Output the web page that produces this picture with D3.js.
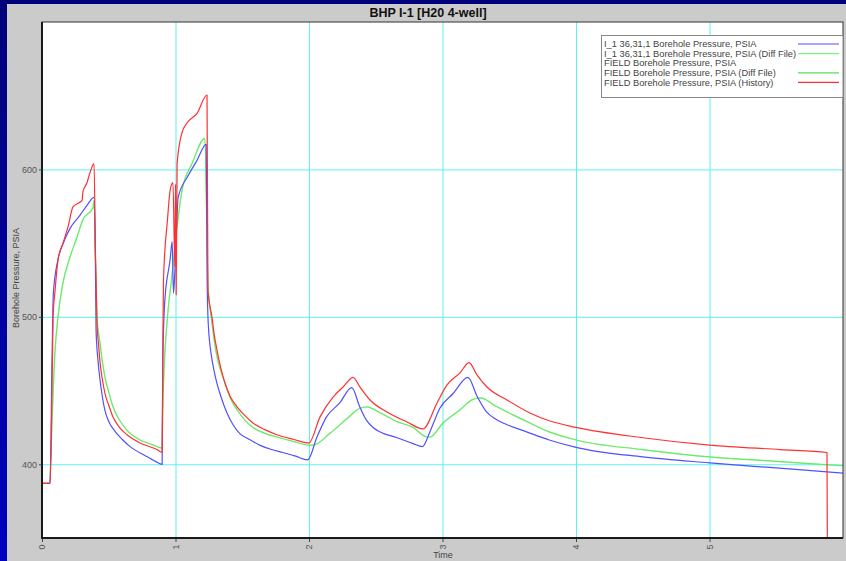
<!DOCTYPE html>
<html>
<head>
<meta charset="utf-8">
<script src="https://cdn.jsdelivr.net/npm/d3@7"></script>
<style>
  html, body { margin: 0; padding: 0; }
  body { width: 846px; height: 561px; overflow: hidden; background: linear-gradient(#00007a, #0000c0); }
  .grid line { stroke: #5ff0f0; stroke-width: 1; }
  .grid path { display: none; }
  .axis text { font-family: "Liberation Sans", Arial, sans-serif; font-size: 9px; fill: #555; }
  .axis path { display: none; }
  .axis line { stroke: #444; }
  .line { fill: none; stroke-width: 1.2; stroke-linejoin: round; }
</style>
</head>
<body>
<script>
// ---- data: [time, psia]
var wellBhp = [[0,387],[0.06,387],[0.075,470],[0.085,516],[0.12,539],[0.16,550],[0.21,560],[0.285,569],[0.34,576],[0.39,581],
  [0.40,540],[0.405,491],[0.42,470],[0.435,457],[0.45,447],[0.47,437],[0.5,429],[0.55,422],[0.6,417],[0.66,412],[0.77,406],[0.85,402],[0.9,400],
  [0.905,470],[0.92,511],[0.96,539],[0.975,551],[0.985,516],[0.995,530],[1.02,581],[1.09,595],[1.16,606],[1.23,617],
  [1.237,525],[1.245,496],[1.27,473],[1.29,463],[1.31,455],[1.34,446],[1.385,435],[1.43,427],[1.48,421],[1.55,417],[1.63,413],[1.72,410],[1.805,408],[1.9,405.5],[1.99,403],
  [2.06,418.5],[2.13,432],[2.23,441.6],[2.32,452],
  [2.38,439],[2.43,430],[2.48,425],[2.53,422],[2.66,418],[2.78,414],[2.85,412],
  [2.91,423],[2.98,438],[3.08,448],[3.19,459],
  [3.26,446],[3.33,435.5],[3.4,430.5],[3.48,427],[3.63,422],[3.8,416.5],[4,411.5],[4.5,405],[5,401],[5.5,397.5],[6,394]];

var diffBhp = [[0,387],[0.06,387],[0.065,401],[0.098,477.5],[0.12,500],[0.157,523],[0.21,540.6],[0.262,554],[0.307,566],[0.382,574],[0.39,579],
  [0.40,540],[0.412,500],[0.435,482],[0.45,471],[0.472,459],[0.5,449],[0.532,439],[0.58,430],[0.637,423],[0.734,416.5],[0.82,413.5],[0.9,411],
  [0.905,440],[0.94,500],[0.97,525],[1.012,561],[1.049,586],[1.124,604],[1.22,621],
  [1.243,523],[1.273,496],[1.29,484],[1.311,473],[1.34,463],[1.371,455],[1.41,445],[1.461,437],[1.52,430],[1.58,425],[1.67,421],[1.76,418.5],[1.88,415.5],[2.007,413],
  [2.03,413],[2.157,421],[2.285,431],[2.382,438],[2.434,439],[2.532,435],[2.659,429],[2.779,425],[2.884,418.5],[2.906,418.5],
  [3.004,428],[3.131,437],[3.228,444],[3.281,445],[3.408,439],[3.528,433.5],[3.655,428],[3.8,422],[4,416.5],[4.5,410],[5,405],[5.5,402],[6,399]];

var historyBhp = [[0,387],[0.06,387],[0.07,420],[0.083,500],[0.098,518],[0.12,538.6],[0.157,550],[0.195,561],[0.232,574.6],[0.27,577],[0.3,579],[0.307,585],[0.337,591],[0.36,598],[0.39,604],
  [0.40,545],[0.412,496],[0.425,480],[0.435,469],[0.45,459],[0.472,448],[0.5,440],[0.532,432],[0.58,425],[0.637,420],[0.734,414.5],[0.861,410],[0.9,408],
  [0.905,480],[0.91,525],[0.94,566],[0.96,586],[0.981,591],[0.995,534],[1.0,590],[1.005,515],[1.012,604],[1.049,625],[1.086,631.5],[1.161,638],[1.236,650.5],
  [1.243,518],[1.273,500],[1.29,488],[1.311,477.5],[1.34,465],[1.371,455],[1.41,446],[1.461,439],[1.52,433],[1.58,428],[1.67,423.5],[1.76,420],[1.88,417],[1.999,414.5],
  [2.082,432],[2.18,445.6],[2.255,452.4],[2.33,459],
  [2.382,452.4],[2.457,443.6],[2.584,435.5],[2.734,428.7],[2.854,424],
  [2.959,441.6],[3.034,453.8],[3.131,462],[3.199,469],
  [3.258,460.6],[3.333,452.4],[3.483,443.6],[3.655,434.8],[3.8,429.5],[4,425],[4.5,418],[5,413],[5.53,410],[5.88,408],[5.885,300]];

var xTicks = [0, 1, 2, 3, 4, 5];
var yTicks = [400, 500, 600];

var legendLabels = [
  "I_1 36,31,1 Borehole Pressure, PSIA",
  "I_1 36,31,1 Borehole Pressure, PSIA (Diff File)",
  "FIELD Borehole Pressure, PSIA",
  "FIELD Borehole Pressure, PSIA (Diff File)",
  "FIELD Borehole Pressure, PSIA (History)"
];
var legendColors = ["#5050ff", "#7af57a", null, "#55e055", "#ff3030"];

var width = 846, height = 561;
var margin = {top: 22, right: 3, bottom: 23, left: 42};

var svg = d3.select("body")
  .append("svg")
  .attr("width", width)
  .attr("height", height)
  .style("display", "block");

// gray panel
svg.append("rect")
  .attr("x", 7).attr("y", 4)
  .attr("width", width - 7).attr("height", height - 4)
  .attr("fill", "#cbcbcb");

svg.append("text")
  .attr("x", 428).attr("y", 17)
  .attr("text-anchor", "middle")
  .style("font-family", "'Liberation Sans', Arial, sans-serif")
  .style("font-weight", "bold")
  .style("font-size", "12.5px")
  .style("fill", "#111")
  .text("BHP I-1 [H20 4-well]");

var xScale = d3.scaleLinear()
  .domain([0, 6])
  .range([margin.left, width - margin.right]);

var yScale = d3.scaleLinear()
  .domain([350, 700])
  .range([height - margin.bottom, margin.top]);

// plot background
svg.append("rect")
  .attr("x", margin.left).attr("y", margin.top)
  .attr("width", width - margin.left - margin.right)
  .attr("height", height - margin.top - margin.bottom)
  .attr("fill", "#fff");

svg.append("clipPath").attr("id", "plot-clip")
  .append("rect")
  .attr("x", margin.left).attr("y", margin.top)
  .attr("width", width - margin.left - margin.right)
  .attr("height", height - margin.top - margin.bottom);

// grids
svg.append("g")
  .attr("class", "grid")
  .attr("transform", `translate(0,${height - margin.bottom})`)
  .call(d3.axisBottom(xScale).tickValues(xTicks.slice(1)).tickSize(-(height - margin.top - margin.bottom)).tickFormat(""));

svg.append("g")
  .attr("class", "grid")
  .attr("transform", `translate(${margin.left},0)`)
  .call(d3.axisLeft(yScale).tickValues(yTicks).tickSize(-(width - margin.left - margin.right)).tickFormat(""));

// lines
var line = d3.line()
  .curve(d3.curveMonotoneX)
  .x(d => xScale(d[0]))
  .y(d => yScale(d[1]));

var linesG = svg.append("g").attr("clip-path", "url(#plot-clip)");

linesG.append("path").datum(diffBhp).attr("class", "line").attr("d", line).style("stroke", legendColors[1]);
linesG.append("path").datum(diffBhp).attr("class", "line").attr("d", line).style("stroke", legendColors[3]).style("stroke-opacity", 0.5);
linesG.append("path").datum(wellBhp).attr("class", "line").attr("d", line).style("stroke", legendColors[0]);
linesG.append("path").datum(historyBhp).attr("class", "line").attr("d", line).style("stroke", legendColors[4]);

// frame
svg.append("rect")
  .attr("x", margin.left).attr("y", margin.top)
  .attr("width", width - margin.left - margin.right)
  .attr("height", height - margin.top - margin.bottom)
  .attr("fill", "none")
  .attr("stroke", "#333")
  .attr("stroke-width", 1);

svg.append("path")
  .attr("d", `M${margin.left},${margin.top}V${height - margin.bottom}H${width - margin.right}`)
  .attr("fill", "none")
  .attr("stroke", "#1a1a1a")
  .attr("stroke-width", 2);

// axes
svg.append("g")
  .attr("class", "axis x-axis")
  .attr("transform", `translate(0,${height - margin.bottom + 1})`)
  .call(d3.axisBottom(xScale).tickValues(xTicks).tickSize(3).tickFormat(d3.format("d")))
  .selectAll("text")
  .attr("transform", "rotate(-90)")
  .attr("x", -8).attr("y", 0)
  .attr("dy", "0.32em")
  .style("text-anchor", "middle");

svg.append("g")
  .attr("class", "axis y-axis")
  .attr("transform", `translate(${margin.left},0)`)
  .call(d3.axisLeft(yScale).tickValues(yTicks).tickSize(3).tickPadding(2));

svg.append("text")
  .attr("text-anchor", "middle")
  .attr("transform", `translate(19,278) rotate(-90)`)
  .style("font-family", "'Liberation Sans', Arial, sans-serif")
  .style("font-size", "9px")
  .style("fill", "#444")
  .text("Borehole Pressure, PSIA");

svg.append("text")
  .attr("text-anchor", "middle")
  .attr("x", 443).attr("y", 558)
  .style("font-family", "'Liberation Sans', Arial, sans-serif")
  .style("font-size", "9px")
  .style("fill", "#444")
  .text("Time");

// legend
var legend = svg.append("g").attr("class", "legend");
legend.append("rect")
  .attr("x", 601.5).attr("y", 35.5)
  .attr("width", width - margin.right - 601.5).attr("height", 62)
  .attr("fill", "#fff")
  .attr("stroke", "#888");

var rows = legend.selectAll(".row")
  .data(legendLabels)
  .enter()
  .append("g")
  .attr("class", "row")
  .attr("transform", (d, i) => `translate(0,${44 + i * 9.6})`);

rows.append("text")
  .attr("x", 604).attr("dy", "0.35em")
  .style("font-family", "'Liberation Sans', Arial, sans-serif")
  .style("font-size", "9.3px")
  .style("fill", "#444")
  .text(d => d);

rows.filter((d, i) => legendColors[i])
  .append("line")
  .attr("x1", 798).attr("x2", 839)
  .attr("stroke", (d) => legendColors[legendLabels.indexOf(d)])
  .attr("stroke-width", 1.2);
</script>
</body>
</html>
